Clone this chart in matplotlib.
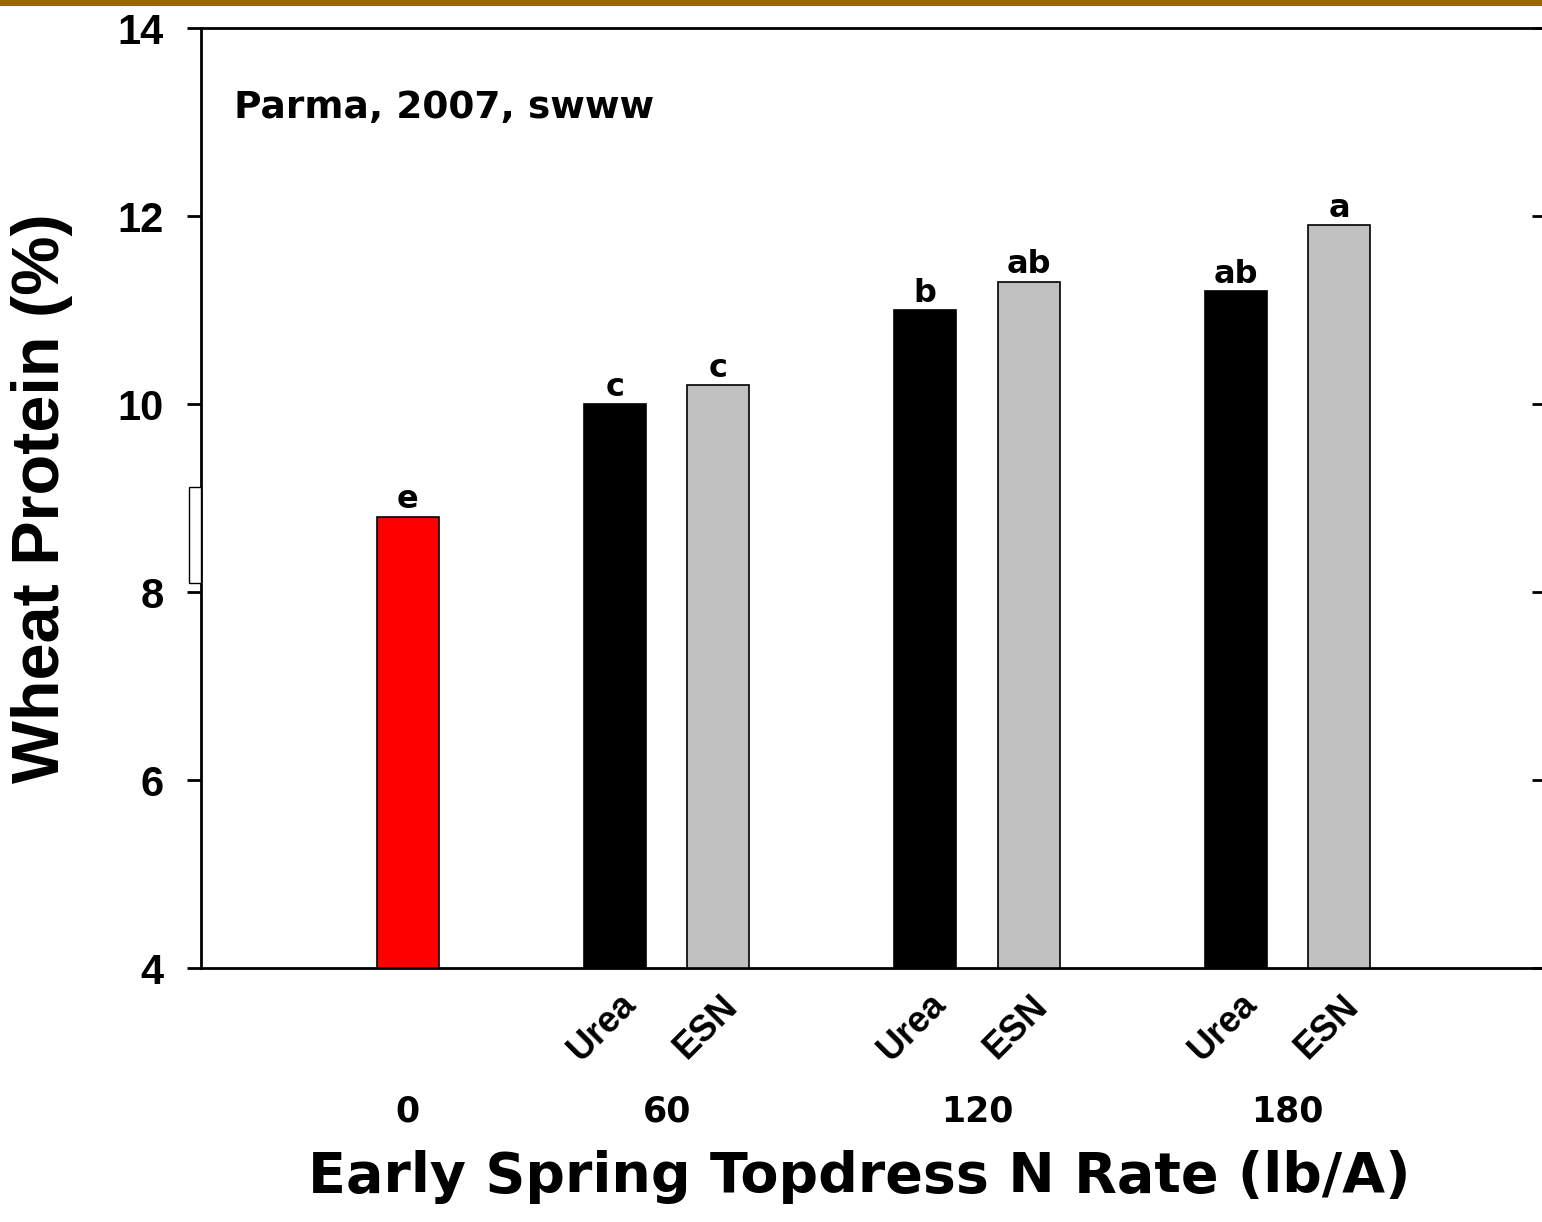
import numpy as np
import matplotlib
matplotlib.use("Agg")
import matplotlib.pyplot as plt
import matplotlib.patches as patches
import matplotlib.transforms as mtransforms

plt.rcParams['font.family'] = ['Liberation Sans', 'DejaVu Sans']
plt.rcParams['font.weight'] = 'bold'
WIDE = ['DejaVu Sans']  # the wider-looking labels in the original

# data
bar_pos = [0, 2, 3, 5, 6, 8, 9]
protein = [8.8, 10.0, 10.2, 11.0, 11.3, 11.2, 11.9]
letters = ['e', 'c', 'c', 'b', 'ab', 'ab', 'a']
bar_colors = ['#ff0000', 'black', '#c0c0c0', 'black', '#c0c0c0', 'black', '#c0c0c0']
source_names = ['Urea', 'ESN', 'Urea', 'ESN', 'Urea', 'ESN']
source_pos = [2, 3, 5, 6, 8, 9]
rate_labels = ['0', '60', '120', '180']
rate_pos = [0, 2.5, 5.5, 8.5]
yticks = [4, 6, 8, 10, 12, 14]

W, H = 1542, 1222
fig = plt.figure(figsize=(W / 100, H / 100), dpi=100)

# axes box in pixels: left 201, right 1546 (just off the image), top 28, bottom 968
ax = fig.add_axes([201 / W, 1 - 968 / H, 1345 / W, 940 / H])
ax.set_xlim(-2, 11)
ax.set_ylim(4, 14)

ax.bar(bar_pos, [p - 4 for p in protein], bottom=4, width=0.6,
       color=bar_colors, edgecolor='black', linewidth=1.2, zorder=3)

for x, p, lab in zip(bar_pos, protein, letters):
    ax.annotate(lab, (x, p), xytext=(0, 6), textcoords='offset points',
                ha='center', va='baseline', fontsize=23, fontweight='bold',
                family=WIDE)

# spines / ticks
for s in ['left', 'top', 'bottom']:
    ax.spines[s].set_linewidth(2)
ax.spines['right'].set_visible(False)
ax.set_yticks(yticks)
ax.set_yticklabels([str(t) for t in yticks], fontsize=30, fontweight='bold')
ax.tick_params(axis='y', direction='out', length=10, width=2, pad=17)
ax.set_xticks([])

ax_r = ax.twinx()
ax_r.set_ylim(4, 14)
ax_r.set_yticks(yticks)
ax_r.tick_params(axis='y', direction='in', length=10, width=2, labelright=False)
for s in ax_r.spines.values():
    s.set_visible(False)

# category labels under the axis
trans = mtransforms.blended_transform_factory(ax.transData, ax.transAxes)
for x, name in zip(source_pos, source_names):
    ax.text(x - 0.12, -0.063, name, transform=trans, rotation=45,
            ha='center', va='center', fontsize=26, fontweight='bold')
for x, lab in zip(rate_pos, rate_labels):
    ax.text(x, (968 - 1112) / 940, lab, transform=trans,
            ha='center', va='center', fontsize=25, fontweight='bold', family=WIDE)

ax.text(33 / 1345, (968 - 118) / 940, 'Parma, 2007, swww', transform=ax.transAxes,
        ha='left', va='baseline', fontsize=27, fontweight='bold', family=WIDE)

fig.text(859 / W, 1 - 1177 / H, 'Early Spring Topdress N Rate (lb/A)',
         ha='center', va='center', fontsize=40, fontweight='bold', family=WIDE)
fig.text(42 / W, 1 - 498 / H, 'Wheat Protein (%)', rotation=90,
         ha='center', va='center', fontsize=48, fontweight='bold')

# brown band along the top and the small leftover box on the y axis
fig.patches.append(patches.Rectangle((0, 1 - 6 / H), 1, 6 / H, transform=fig.transFigure,
                                     facecolor='#996600', edgecolor='none'))
fig.patches.append(patches.Rectangle((189 / W, 1 - 583 / H), 12 / W, 96 / H,
                                     transform=fig.transFigure, facecolor='white',
                                     edgecolor='black', linewidth=1))

fig.savefig('out.png', dpi=100)
